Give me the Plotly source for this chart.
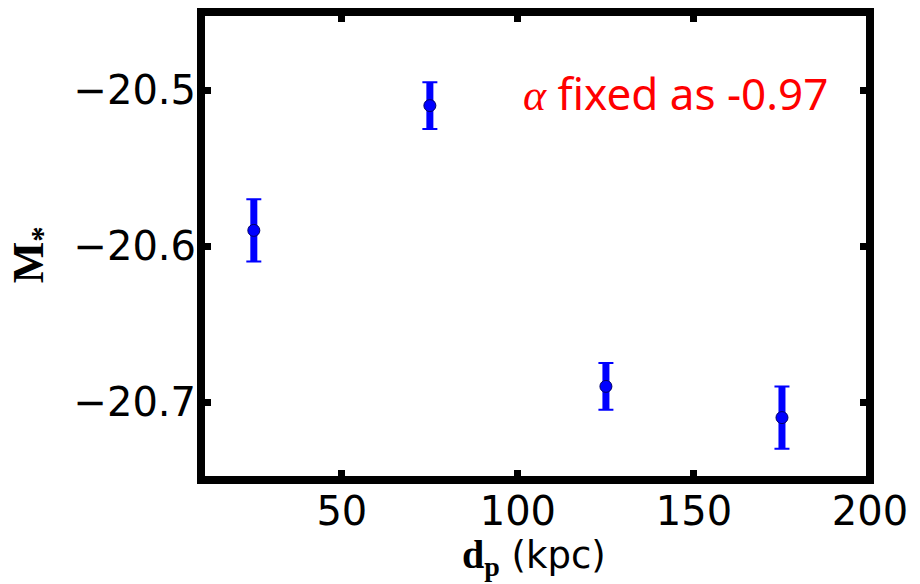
import plotly.graph_objects as go

# Projected distance bins (kpc) and fitted characteristic magnitude M*
d_p = [25, 75, 125, 175]
m_star = [-20.59, -20.51, -20.69, -20.71]
m_err = [0.02, 0.015, 0.015, 0.02]

x_ticks = [50, 100, 150, 200]
y_ticks = [-20.7, -20.6, -20.5]
y_tick_text = ["\u221220.7", "\u221220.6", "\u221220.5"]

BLUE = "#0000ff"

fig = go.Figure()

# thick error bar stems
fig.add_trace(go.Scatter(
    x=d_p, y=m_star, mode="markers",
    marker=dict(size=1, color="rgba(0,0,0,0)"),
    error_y=dict(type="data", array=m_err, visible=True,
                 color=BLUE, thickness=7, width=0),
    hoverinfo="skip", showlegend=False,
))
# thin caps
fig.add_trace(go.Scatter(
    x=d_p, y=m_star, mode="markers",
    marker=dict(size=1, color="rgba(0,0,0,0)"),
    error_y=dict(type="data", array=m_err, visible=True,
                 color=BLUE, thickness=2, width=7.5),
    hoverinfo="skip", showlegend=False,
))
# points
fig.add_trace(go.Scatter(
    x=d_p, y=m_star, mode="markers",
    marker=dict(size=12, color=BLUE, line=dict(color="#000066", width=1)),
    showlegend=False,
))

tick_font = dict(family="DejaVu Sans", size=40, color="black")

fig.update_xaxes(
    range=[10, 200], tickvals=x_ticks, ticktext=[str(v) for v in x_ticks],
    ticks="inside", ticklen=10, tickwidth=7, tickcolor="black",
    mirror="ticks", showline=False, showgrid=False, zeroline=False,
    tickfont=tick_font, ticklabelstandoff=4,
)
fig.update_yaxes(
    range=[-20.75, -20.45], tickvals=y_ticks, ticktext=y_tick_text,
    ticks="inside", ticklen=10, tickwidth=7, tickcolor="black",
    mirror="ticks", showline=False, showgrid=False, zeroline=False,
    tickfont=tick_font, ticklabelstandoff=4,
)

# heavy frame around the axes
fig.add_shape(type="rect", xref="paper", yref="paper", x0=0, x1=1, y0=0, y1=1,
              line=dict(color="black", width=8), layer="above")

fig.add_annotation(
    xref="paper", yref="paper", x=(682 - 201) / 678, y=(480 - 93) / 468,
    text="<span style='font-family:Liberation Serif'><i>\u03b1</i></span> fixed as -0.97",
    showarrow=False,
    font=dict(family="Noto Sans", size=44, color="red"),
    xanchor="center", yanchor="middle",
)

# axis titles
fig.add_annotation(
    xref="paper", yref="paper", x=(538 - 201) / 678, y=-(557 - 480) / 468,
    text="<span style='font-family:Liberation Serif;font-size:40px'><b>d<sub>p</sub></b></span> (kpc)",
    showarrow=False, font=dict(family="DejaVu Sans", size=37, color="black"),
    xanchor="center", yanchor="middle",
)
fig.add_annotation(
    xref="paper", yref="paper", x=-(201 - 30) / 678, y=(480 - 255) / 468,
    text="<b>M<sub>*</sub></b>", textangle=-90,
    showarrow=False, font=dict(family="Liberation Serif", size=44, color="black"),
    xanchor="center", yanchor="middle",
)

fig.update_layout(
    width=920, height=584,
    margin=dict(l=201, r=41, t=12, b=104),
    paper_bgcolor="white", plot_bgcolor="white",
)

fig.write_html("out.html")
